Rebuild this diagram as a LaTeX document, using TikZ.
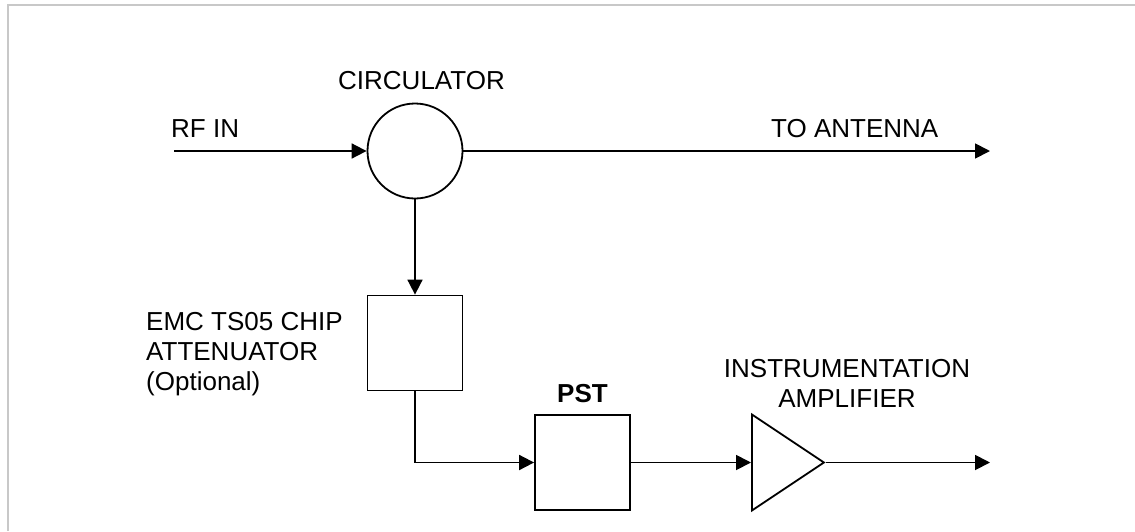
\documentclass[tikz,border=0pt]{standalone}
\usepackage{fontspec}
\setmainfont{Liberation Sans}
\usepackage{tikz}
\usetikzlibrary{arrows.meta,positioning,shapes.geometric}
\definecolor{framegray}{RGB}{200,200,200}

\begin{document}
\begin{tikzpicture}[x=1pt, y=-1pt,
  font=\fontsize{26}{30}\selectfont,
  blk/.style={draw, line width=1.8pt, minimum size=95pt, inner sep=0pt},
  circ/.style={draw, circle, line width=1.8pt, minimum size=95pt, inner sep=0pt},
  amp/.style={draw, isosceles triangle, isosceles triangle stretches,
  line width=1.8pt, minimum width=96pt, minimum height=72pt, inner sep=0pt},
  lbl/.style={inner sep=0pt, anchor=base west},
  arrow/.style={-{Triangle[length=15pt,width=15pt]}, line width=1.8pt},
  node distance=11pt]
\useasboundingbox (0,0) rectangle (1135,531);
\draw[framegray, line width=2pt] (8,531) -- (8,5) -- (1135,5);
\node[circ] (circ) at (415,151) {};
\node[blk] (atten) at (415,343) {};
\node[blk] (pst) at (582.5,462.5) {};
\node[amp, anchor=west] (amp) at (751,462.5) {};
\coordinate (rfin) at (174,151);
\coordinate (ant) at (990,151);
\coordinate (out) at (990,462.5);
\node[lbl] (rflbl) at (171,137) {RF IN};
\node[lbl] (circlbl) at (338,89) {CIRCULATOR};
\node[lbl] (antlbl) at (771,137) {TO ANTENNA};
\node[lbl, align=left] (attlbl) at (146,390) {EMC TS05 CHIP\\ATTENUATOR\\(Optional)};
\node[above=of pst, inner sep=0pt, font=\fontsize{26}{30}\selectfont\bfseries] (pstlbl) {PST};
\node[inner sep=0pt, anchor=base, align=center] (amplbl) at (847,407) {INSTRUMENTATION\\AMPLIFIER};
\draw[arrow] (rfin) -- (circ.west);
\draw[arrow] (circ.east) -- (ant);
\draw[arrow] (circ.south) -- (atten.north);
\draw[arrow] (atten.south) |- (pst.west);
\draw[arrow] (pst.east) -- (amp.west);
\draw[arrow] (amp.apex) -- (out);
\end{tikzpicture}
\end{document}
